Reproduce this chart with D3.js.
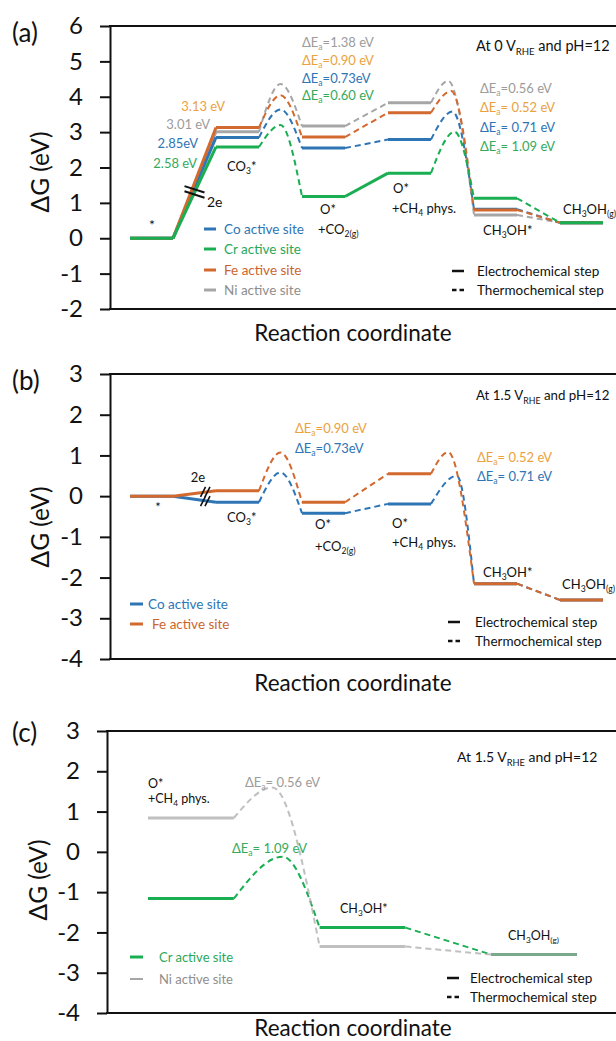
<!DOCTYPE html>
<html><head><meta charset="utf-8">
<script src="https://cdn.jsdelivr.net/npm/d3@7"></script>
<style>
body{margin:0;background:#fff}
svg{display:block}
text{font-family:Lato,"Open Sans",sans-serif}
</style>
</head><body>
<svg id="chart" width="616" height="1041"></svg>
<script>
// ---------------- data ----------------
const sites = ["Co", "Cr", "Fe", "Ni"];
const statesA = ["*", "CO3*", "O*+CO2(g)", "O*+CH4 phys.", "CH3OH*", "CH3OH(g)"];
const yTicksA = [-2, -1, 0, 1, 2, 3, 4, 5, 6];
const yTicksBC = [-4, -3, -2, -1, 0, 1, 2, 3];

// Panel (a): 0 V_RHE, pH=12  (state energies, eV)
const coA = [0, 2.85, 2.55, 2.79, 0.82, 0.44];
const crA = [0, 2.58, 1.18, 1.84, 1.13, 0.44];
const feA = [0, 3.13, 2.86, 3.55, 0.80, 0.44];
const niA = [0, 3.01, 3.17, 3.83, 0.66, 0.44];
// transition-state peaks (CO3*->O*, O*+CH4->CH3OH*)
const coPeaksA = [3.64, 3.58];
const crPeaksA = [3.20, 3.01];
const fePeaksA = [4.04, 4.16];
const niPeaksA = [4.36, 4.45];
const co3LabelsA = [2.85, 2.58, 3.13, 3.01];
const ea1A = [0.73, 0.60, 0.90, 1.38];
const ea2A = [0.71, 1.09, 0.52, 0.56];
// step kinds for the 5 transitions: e = electrochemical (solid), t = thermochemical (dashed)
const stepsCoA = ["e", "t", "t", "t", "t"];
const stepsCrA = ["e", "t", "e", "t", "t"];
const stepsFeA = ["e", "t", "t", "t", "t"];
const stepsNiA = ["e", "t", "t", "t", "t"];

// Panel (b): 1.5 V_RHE, pH=12
const sitesB = ["Co", "Fe"];
const coB = [0, -0.15, -0.42, -0.19, -2.15, -2.55];
const feB = [0, 0.13, -0.15, 0.55, -2.15, -2.55];
const coPeaksB = [0.58, 0.50];
const fePeaksB = [1.07, 1.08];
const ea1B = [0.73, 0.90];
const ea2B = [0.71, 0.52];
const stepsB = ["e", "t", "t", "t", "t"];

// Panel (c): 1.5 V_RHE, pH=12
const sitesC = ["Cr", "Ni"];
const statesC = ["O*+CH4 phys.", "CH3OH*", "CH3OH(g)"];
const crC = [-1.16, -1.88, -2.55];
const niC = [0.84, -2.35, -2.55];
const crPeakC = [-0.12];
const niPeakC = [1.60];
const eaC = [1.09, 0.56];
const stepsC = ["t", "t"];

// ---------------- styles ----------------
const lineCol = {Co: "#2e75b6", Cr: "#1aae52", Fe: "#d2692f", Ni: "#a6a6a6"};
const labelCol = {Co: "#2e75b6", Cr: "#36aa5c", Fe: "#eba23e", Ni: "#9c9c9c"};
const legendCol = {Co: "#2e75b6", Cr: "#2aa85a", Fe: "#cc6430", Ni: "#8e8e8e"};

const svg = d3.select("#chart");

function rich(g, x, y, str, o) {
  const fs = o.size;
  const t = g.append("text").attr("x", x).attr("y", y + 0.36 * fs)
    .attr("font-size", fs).attr("fill", o.color || "#111")
    .attr("text-anchor", o.anchor || "start");
  const parts = str.split(/(_\{[^}]*\})/);
  let shifted = false;
  parts.forEach(p => {
    if (!p) return;
    if (p.startsWith("_{")) {
      t.append("tspan").attr("font-size", fs * 0.66).attr("dy", fs * 0.28).text(p.slice(2, -1));
      shifted = true;
    } else {
      const ts = t.append("tspan").text(p);
      if (shifted) { ts.attr("dy", -fs * 0.28); shifted = false; }
    }
  });
  return t;
}

function frame(cfg) {
  const g = svg.append("g");
  const y = d3.scaleLinear().domain(cfg.yDomain).range([cfg.bottom, cfg.top]);
  const x = d3.scaleLinear().domain(cfg.xDomain).range(cfg.xRange);
  const ax = g.append("g").attr("transform", `translate(${cfg.axisX},0)`)
    .call(d3.axisLeft(y).tickValues(cfg.ticks).tickSize(10).tickSizeOuter(0).tickPadding(17)
      .tickFormat(d => String(d)));
  ax.select(".domain").attr("stroke", "#111").attr("stroke-width", 2);
  ax.selectAll(".tick line").attr("stroke", "#111").attr("stroke-width", 2);
  ax.selectAll(".tick text").attr("font-size", 24).attr("fill", "#111")
    .attr("font-family", "Lato, 'Open Sans', sans-serif");
  // top and bottom frame lines
  g.append("line").attr("x1", cfg.axisX - 1).attr("x2", 616).attr("y1", cfg.top).attr("y2", cfg.top)
    .attr("stroke", "#111").attr("stroke-width", 2);
  g.append("line").attr("x1", cfg.axisX - 1).attr("x2", 616).attr("y1", cfg.bottom).attr("y2", cfg.bottom)
    .attr("stroke", "#111").attr("stroke-width", 2);
  // panel letter
  g.append("text").attr("x", 12).attr("y", cfg.letterY + 9).attr("font-size", 26).attr("fill", "#111").text(cfg.letter);
  // y title
  g.append("text").attr("transform", `translate(${cfg.titleX},${cfg.titleY}) rotate(-90)`)
    .attr("text-anchor", "middle").attr("dy", "0.35em").attr("font-size", 24.5).attr("fill", "#111").text("ΔG (eV)");
  // x title
  g.append("text").attr("x", 353).attr("y", cfg.xTitleY + 8).attr("text-anchor", "middle")
    .attr("font-size", 22.5).attr("fill", "#111").text("Reaction coordinate");
  return {g, x, y};
}

const lineGen = (x, y, curve) => d3.line().x(d => x(d[0])).y(d => y(d[1])).curve(curve);

// draw one pathway: levels at [2i+u0, 2i+1+u0]
function pathway(P, vals, peaks, peakU, steps, site, o = {}) {
  const {g, x, y} = P;
  const col = lineCol[site];
  const u0 = o.u0 || 0;
  const barriers = o.barriers || [1, 3];
  const wS = o.wSolid || 3, wD = o.wDash || 2;
  const lg = g.append("g").attr("opacity", o.opacity || 1);
  // transitions
  for (let i = 0; i < vals.length - 1; i++) {
    const a = [u0 + 2 * i + 1, vals[i]], b = [u0 + 2 * i + 2, vals[i + 1]];
    const bi = barriers.indexOf(i);
    let pts, curve = d3.curveLinear;
    if (bi >= 0) { pts = [a, [peakU[bi], peaks[bi]], b]; curve = d3.curveMonotoneX; }
    else pts = [a, b];
    const dashed = steps[i] === "t";
    lg.append("path").attr("d", lineGen(x, y, curve)(pts)).attr("fill", "none")
      .attr("stroke", col).attr("stroke-width", dashed ? wD : wS)
      .attr("stroke-dasharray", dashed ? "6,4" : null);
  }
  // levels
  vals.forEach((v, i) => {
    lg.append("path").attr("d", lineGen(x, y, d3.curveLinear)([[u0 + 2 * i, v], [u0 + 2 * i + 1, v]]))
      .attr("stroke", col).attr("stroke-width", wS).attr("fill", "none");
  });
}

function stepLegend(g, x0, y1, y2, tx) {
  g.append("line").attr("x1", x0).attr("x2", x0 + 12).attr("y1", y1).attr("y2", y1)
    .attr("stroke", "#111").attr("stroke-width", 2.5);
  g.append("line").attr("x1", x0).attr("x2", x0 + 12).attr("y1", y2).attr("y2", y2)
    .attr("stroke", "#111").attr("stroke-width", 2.5).attr("stroke-dasharray", "4.5,3");
  rich(g, tx, y1, "Electrochemical step", {size: 13.5, color: "#111"});
  rich(g, tx, y2, "Thermochemical step", {size: 13.5, color: "#111"});
}

// ---------------- panel (a) ----------------
const A = frame({axisX: 110, top: 26, bottom: 309, yDomain: [-2, 6], ticks: yTicksA,
  xDomain: [0, 11], xRange: [130, 603], letter: "(a)", letterY: 33, titleX: 40, titleY: 172, xTitleY: 333});
const valsA = {Co: coA, Cr: crA, Fe: feA, Ni: niA};
const peaksA = {Co: coPeaksA, Cr: crPeaksA, Fe: fePeaksA, Ni: niPeaksA};
const stepsA = {Co: stepsCoA, Cr: stepsCrA, Fe: stepsFeA, Ni: stepsNiA};
const peakUA = {Co: [3.5, 7.5], Cr: [3.5, 7.55], Fe: [3.5, 7.47], Ni: [3.5, 7.4]};
["Ni", "Co", "Fe", "Cr"].forEach(s => pathway(A, valsA[s], peaksA[s], peakUA[s], stepsA[s], s));

// break marks on first electrochemical rise
{
  const cx = A.x(1.5), cy = A.y(crA[1] / 2 + 0.02);
  [-2.6, 2.6].forEach(off => {
    A.g.append("line").attr("x1", cx - 10).attr("y1", cy + off - 3.2).attr("x2", cx + 10).attr("y2", cy + off + 3.2)
      .attr("stroke", "#111").attr("stroke-width", 2);
  });
}
rich(A.g, 152, 225, "*", {size: 14, anchor: "middle"});
rich(A.g, 207, 202, "2e", {size: 14});
rich(A.g, 227, 166, "CO_{3}*", {size: 13});
rich(A.g, 320, 209, "O*", {size: 13});
rich(A.g, 318, 229, "+CO_{2(g)}", {size: 13});
rich(A.g, 393, 188, "O*", {size: 13});
rich(A.g, 392, 208, "+CH_{4} phys.", {size: 13});
rich(A.g, 483, 230, "CH_{3}OH*", {size: 13});
rich(A.g, 563, 209, "CH_{3}OH_{(g)}", {size: 13});
// CO3* energies (right-aligned)
const co3Pos = {Fe: [225, 106, " eV"], Ni: [210, 124, " eV"], Co: [198, 143, "eV"], Cr: [197, 163, " eV"]};
sites.forEach((s, i) => {
  const p = co3Pos[s];
  rich(A.g, p[0], p[1], co3LabelsA[i].toFixed(2) + p[2], {size: 13, color: labelCol[s], anchor: "end"});
});
// activation energies
const ea1Pos = {Ni: [42, "="], Fe: [60, "="], Co: [78, "="], Cr: [95, "="]};
const ea1Fmt = {Ni: " eV", Fe: " eV", Co: "eV", Cr: " eV"};
const ea2Pos = {Ni: [88, "="], Fe: [107, "= "], Co: [127, "= "], Cr: [146, "= "]};
sites.forEach((s, i) => {
  rich(A.g, 302, ea1Pos[s][0], "ΔE_{a}" + ea1Pos[s][1] + ea1A[i].toFixed(2) + ea1Fmt[s], {size: 13, color: labelCol[s]});
  rich(A.g, 480, ea2Pos[s][0], "ΔE_{a}" + ea2Pos[s][1] + ea2A[i].toFixed(2) + " eV", {size: 13, color: labelCol[s]});
});
rich(A.g, 476, 46, "At 0 V_{RHE} and pH=12", {size: 14.5});
// site legend
sites.forEach((s, i) => {
  const ly = [229, 249, 270, 290][i];
  A.g.append("line").attr("x1", 204).attr("x2", 216).attr("y1", ly).attr("y2", ly)
    .attr("stroke", lineCol[s]).attr("stroke-width", 3);
  rich(A.g, 224, ly, s + " active site", {size: 13.5, color: legendCol[s]});
});
stepLegend(A.g, 452, 271, 290, 477);

// ---------------- panel (b) ----------------
const B = frame({axisX: 110, top: 374, bottom: 659, yDomain: [-4, 3], ticks: yTicksBC,
  xDomain: [0, 11], xRange: [130, 603], letter: "(b)", letterY: 381, titleX: 40, titleY: 527, xTitleY: 683});
pathway(B, coB, coPeaksB, [3.5, 7.6], stepsB, "Co");
pathway(B, feB, fePeaksB, [3.5, 7.4], stepsB, "Fe");
// break marks
[coB[1], feB[1]].forEach(v => {
  const cx = B.x(1.75), cy = B.y(v * 0.8);
  [-2.2, 2.2].forEach(off => {
    B.g.append("line").attr("x1", cx + off - 2.5).attr("y1", cy + 5).attr("x2", cx + off + 2.5).attr("y2", cy - 5)
      .attr("stroke", "#111").attr("stroke-width", 1.6);
  });
});
rich(B.g, 198, 477, "2e", {size: 13, anchor: "middle"});
rich(B.g, 158, 507, "*", {size: 13, anchor: "middle"});
rich(B.g, 227, 517, "CO_{3}*", {size: 13});
rich(B.g, 315, 524, "O*", {size: 13});
rich(B.g, 315, 546, "+CO_{2(g)}", {size: 13});
rich(B.g, 392, 523, "O*", {size: 13});
rich(B.g, 392, 542, "+CH_{4} phys.", {size: 13});
rich(B.g, 483, 572, "CH_{3}OH*", {size: 13});
rich(B.g, 562, 584, "CH_{3}OH_{(g)}", {size: 13});
rich(B.g, 295, 428, "ΔE_{a}=" + ea1B[1].toFixed(2) + " eV", {size: 13, color: labelCol.Fe});
rich(B.g, 295, 448, "ΔE_{a}=" + ea1B[0].toFixed(2) + "eV", {size: 13, color: labelCol.Co});
rich(B.g, 477, 457, "ΔE_{a}= " + ea2B[1].toFixed(2) + " eV", {size: 13, color: labelCol.Fe});
rich(B.g, 477, 476, "ΔE_{a}= " + ea2B[0].toFixed(2) + " eV", {size: 13, color: labelCol.Co});
rich(B.g, 476, 395, "At 1.5 V_{RHE} and pH=12", {size: 13.3});
sitesB.forEach((s, i) => {
  const ly = [604, 624][i];
  B.g.append("line").attr("x1", 130).attr("x2", 143).attr("y1", ly).attr("y2", ly)
    .attr("stroke", lineCol[s]).attr("stroke-width", 3);
  rich(B.g, [148, 152][i], ly, s + " active site", {size: 13.5, color: legendCol[s]});
});
stepLegend(B.g, 448, 622, 641, 475);

// ---------------- panel (c) ----------------
const C = frame({axisX: 107, top: 731, bottom: 1013, yDomain: [-4, 3], ticks: yTicksBC,
  xDomain: [6, 11], xRange: [148, 577], letter: "(c)", letterY: 733, titleX: 38, titleY: 880, xTitleY: 1028});
pathway(C, crC, crPeakC, [7.57], stepsC, "Cr", {u0: 6, barriers: [0]});
pathway(C, niC, niPeakC, [7.45], stepsC, "Ni", {u0: 6, barriers: [0], opacity: 0.7, wSolid: 3, wDash: 2});
rich(C.g, 148, 783, "O*", {size: 12.5});
rich(C.g, 148, 798, "+CH_{4} phys.", {size: 12.5});
rich(C.g, 245, 782, "ΔE_{a}= " + eaC[1].toFixed(2) + " eV", {size: 13, color: labelCol.Ni});
rich(C.g, 232, 848, "ΔE_{a}= " + eaC[0].toFixed(2) + " eV", {size: 13, color: labelCol.Cr});
rich(C.g, 457, 757, "At 1.5 V_{RHE} and pH=12", {size: 14});
rich(C.g, 340, 908, "CH_{3}OH*", {size: 12.5});
rich(C.g, 508, 935, "CH_{3}OH_{(g)}", {size: 12.5});
sitesC.forEach((s, i) => {
  const ly = [957, 979][i];
  C.g.append("line").attr("x1", 130).attr("x2", 143).attr("y1", ly).attr("y2", ly)
    .attr("stroke", lineCol[s]).attr("stroke-width", [3, 2][i]);
  rich(C.g, 159, ly, s + " active site", {size: 13, color: legendCol[s]});
});
stepLegend(C.g, 447, 978, 997, 470);
</script>
</body></html>
